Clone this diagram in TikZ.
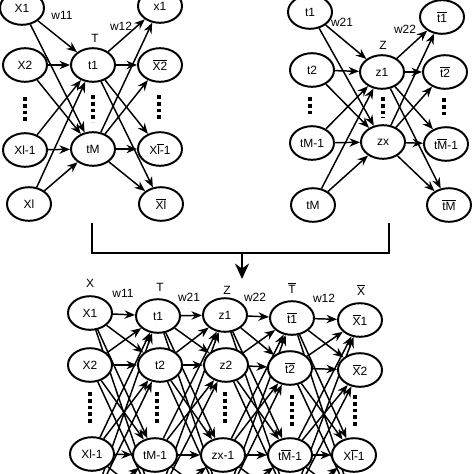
\documentclass[tikz,border=0pt]{standalone}
\usepackage{fontspec}
\setmainfont{Liberation Sans}
\usetikzlibrary{shapes.geometric,arrows.meta,backgrounds}
\newcommand{\ob}[1]{$\overline{\mbox{#1}}$}
\begin{document}
\begin{tikzpicture}
    [%%%%%%%%%%%%%%%%%%%%%%%%%%%%%%
        x=0.025cm, y=-0.025cm,
        unit/.style={ellipse,draw=black,line width=1.4pt,fill=white,minimum width=1.1cm,minimum height=0.84cm,inner sep=0pt,font=\fontsize{8.5}{9}\selectfont},
        txt/.style={font=\fontsize{8.5}{9}\selectfont,inner sep=1pt},
        arr/.style={-{Stealth[length=7.5pt,width=6pt]},line width=1.05pt},
        dotcol/.style={line width=2.8pt,dash pattern=on 2.8pt off 2pt},
    ]%%%%%%%%%%%%%%%%%%%%%%%%%%%%%%
    \useasboundingbox (0,0) rectangle (474,474);
    \clip (0,0) rectangle (474,474);

    \node[unit] (LX1) at (22,8) {X1};
    \node[unit] (LX2) at (25,65) {X2};
    \node[unit] (LX3) at (25,150) {Xl-1};
    \node[unit] (LX4) at (29,204) {Xl};
    \node[unit] (LT1) at (93,65) {t1};
    \node[unit] (LT2) at (93,149) {tM};
    \node[unit] (LY1) at (160,6) {x1};
    \node[unit] (LY2) at (160,65) {\ob{X2}};
    \node[unit] (LY3) at (160,149) {X\ob{l-}1};
    \node[unit] (LY4) at (161,204) {\ob{Xl}};
    \node[txt] (LlabT) at (95,38) {T};
    \node[txt] (Lw11) at (62,15) {w11};
    \node[txt] (Lw12) at (121,26) {w12};
    \draw[dotcol] (25,97) -- (25,122);
    \draw[dotcol] (93,95) -- (93,122);
    \draw[dotcol] (159,95) -- (159,120);

    \node[unit] (RT1) at (310,12) {t1};
    \node[unit] (RT2) at (312,70) {t2};
    \node[unit] (RT3) at (312,143) {tM-1};
    \node[unit] (RT4) at (313,205) {tM};
    \node[unit] (RZ1) at (382,72) {z1};
    \node[unit] (RZ2) at (383,142) {zx};
    \node[unit] (RY1) at (442,17) {\ob{t1}};
    \node[unit] (RY2) at (445,72) {\ob{t2}};
    \node[unit] (RY3) at (446,144) {t\ob{M}-1};
    \node[unit] (RY4) at (449,205) {\ob{tM}};
    \node[txt] (RlabZ) at (383,45) {Z};
    \node[txt] (Rw21) at (342,22) {w21};
    \node[txt] (Rw22) at (405,29) {w22};
    \draw[dotcol] (310,97) -- (310,117);
    \draw[dotcol] (383,97) -- (383,118);
    \draw[dotcol] (444,98) -- (444,116);

    \coordinate (brL) at (92,223);
    \coordinate (brR) at (389,223);
    \coordinate (brM) at (242,253);
    \coordinate (brTip) at (242,279);
    \draw[line width=1.2pt] (brL) |- (brM) -| (brR);
    \draw[line width=1.2pt,-{Stealth[length=11pt,width=10pt]}] (brM) -- (brTip);

    \node[unit] (BA1) at (90,313) {X1};
    \node[unit] (BA2) at (90,365) {X2};
    \node[unit] (BA3) at (92,454) {Xl-1};
    \node[unit] (BA4) at (92,505) {};
    \node[unit] (BB1) at (158,316) {t1};
    \node[unit] (BB2) at (160,365) {t2};
    \node[unit] (BB3) at (155,455) {tM-1};
    \node[unit] (BB4) at (155,505) {};
    \node[unit] (BC1) at (225,315) {z1};
    \node[unit] (BC2) at (226,365) {z2};
    \node[unit] (BC3) at (223,455) {zx-1};
    \node[unit] (BC4) at (223,505) {};
    \node[unit] (BD1) at (292,318) {\ob{t1}};
    \node[unit] (BD2) at (290,368) {\ob{t2}};
    \node[unit] (BD3) at (290,455) {t\ob{M}-1};
    \node[unit] (BD4) at (290,505) {};
    \node[unit] (BE1) at (360,320) {\ob{X}1};
    \node[unit] (BE2) at (360,370) {\ob{X}2};
    \node[unit] (BE3) at (354,455) {X\ob{l-}1};
    \node[unit] (BE4) at (354,505) {};
    \node[txt] (BlabX) at (90,283) {X};
    \node[txt] (BlabT) at (160,287) {T};
    \node[txt] (BlabZ) at (227,290) {Z};
    \node[txt] (BlabTb) at (292,288) {\ob{T}};
    \node[txt] (BlabXb) at (361,290) {\ob{X}};
    \node[txt] (Bw11) at (123,293) {w11};
    \node[txt] (Bw21) at (189,297) {w21};
    \node[txt] (Bw22) at (255,297) {w22};
    \node[txt] (Bw12) at (324,298) {w12};
    \draw[dotcol] (90,392) -- (90,425);
    \draw[dotcol] (157,392) -- (157,425);
    \draw[dotcol] (225,392) -- (225,425);
    \draw[dotcol] (292,395) -- (292,428);
    \draw[dotcol] (355,395) -- (355,428);

    \begin{pgfonlayer}{background}
    \foreach \i in {1,...,4} \foreach \j in {1,2} {
        \draw[arr] (LX\i) -- (LT\j);
        \draw[arr] (LT\j) -- (LY\i);
        \draw[arr] (RT\i) -- (RZ\j);
        \draw[arr] (RZ\j) -- (RY\i);
    }
    \foreach \a/\b in {BA/BB,BB/BC,BC/BD,BD/BE} \foreach \i in {1,...,4} \foreach \j in {1,...,4}
        \draw[arr] (\a\i) -- (\b\j);
    \end{pgfonlayer}
\end{tikzpicture}
\end{document}
